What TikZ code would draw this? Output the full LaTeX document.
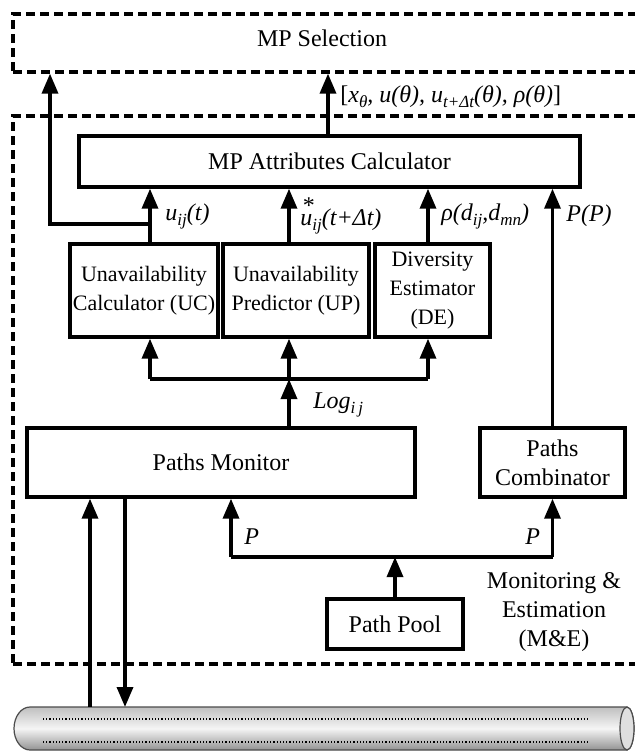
\documentclass[tikz,border=0pt]{standalone}
\usepackage{fontspec}
\setmainfont{Liberation Serif}
\usetikzlibrary{arrows.meta,calc}
% subscript in running italic labels
\newcommand{\sbs}[1]{\raisebox{-0.45ex}{\fontsize{8.5}{9}\selectfont\itshape #1}}
\begin{document}
\begin{tikzpicture}[x=0.5pt,y=-0.5pt,
  box/.style={draw, line width=1.7pt, inner sep=0pt, align=center,
    font=\fontsize{12}{14.5}\selectfont},
  smallbox/.style={box, font=\fontsize{11}{14.5}\selectfont},
  dashbox/.style={draw, line width=1.6pt, dash pattern=on 4.5pt off 2.5pt, inner sep=0pt},
  txt/.style={inner sep=0pt, align=center, font=\fontsize{12}{14.5}\selectfont},
  lbl/.style={inner sep=0pt, anchor=west, font=\fontsize{12}{14}\selectfont\itshape},
  wire/.style={line width=1.7pt},
  arr/.style={wire, -{Triangle[length=10pt,width=8pt]}}]
\useasboundingbox (0,0) rectangle (635,751);

% dashed frames
\node[dashbox, minimum width=323.5pt, minimum height=29pt] (sel) at (336.5,43) {};
\node[txt] (seltext) at (322,38) {MP Selection};
\node[dashbox, minimum width=323.5pt, minimum height=274pt] (me) at (336.5,390) {};
\node[txt] (metext) at (554,612) {Monitoring \&\\Estimation\\(M\&E)};

% blocks
\node[box, minimum width=250.5pt, minimum height=25.5pt] (attr) at (329.5,161.5) {MP Attributes Calculator};
\node[smallbox, minimum width=74pt, minimum height=46.5pt] (uc) at (144,290.5) {Unavailability\\Calculator (UC)};
\node[smallbox, minimum width=73pt, minimum height=46.5pt] (up) at (296,290.5) {Unavailability\\Predictor (UP)};
\node[smallbox, minimum width=57.5pt, minimum height=46.5pt] (de) at (432.5,290.5) {Diversity\\Estimator\\(DE)};
\node[box, minimum width=194pt, minimum height=34.5pt] (pm) at (221,462.5) {Paths Monitor};
\node[box, minimum width=72.5pt, minimum height=34.5pt] (pc) at (552.5,462.5) {Paths\\Combinator};
\node[box, minimum width=68pt, minimum height=25pt] (pool) at (395,624) {Path Pool};

% connector columns and bends
\coordinate (cUC) at (150,0);
\coordinate (cUP) at (289,0);
\coordinate (cDE) at (428,0);
\coordinate (cMid) at (328,0);
\coordinate (tapUC) at (150,224);
\coordinate (leftUp) at (50,224);
\coordinate (dL) at (150,379);
\coordinate (dR) at (428,379);
\coordinate (pL) at (231,557);
\coordinate (pR) at (552.5,557);
\coordinate (tapIn) at (90,707);
\coordinate (tapOut) at (125,707);

% upper flows
\draw[arr] (attr.north -| cMid) -- (sel.south -| cMid);
\draw[arr] (tapUC) -- (leftUp) -- (leftUp |- sel.south);
\draw[arr] (uc.north -| cUC) -- (attr.south -| cUC);
\draw[arr] (up.north -| cUP) -- (attr.south -| cUP);
\draw[arr] (de.north -| cDE) -- (attr.south -| cDE);
\draw[arr] (pc.north) -- (attr.south -| pc.north);

% log distribution
\draw[wire] (dL) -- (dR);
\draw[arr] (dL) -- (uc.south -| dL);
\draw[arr] (dL -| cUP) -- (up.south -| cUP);
\draw[arr] (dR) -- (de.south -| dR);
\draw[arr] (pm.north -| cUP) -- (dL -| cUP);

% path pool distribution
\draw[wire] (pL) -- (pR);
\draw[arr] (pL) -- (pm.south -| pL);
\draw[arr] (pR) -- (pc.south);
\draw[arr] (pool.north) -- (pool.north |- pL);

% pipe
\shade[top color=gray!50, bottom color=gray!85, middle color=white!92!gray, draw=gray!60!black, line width=0.6pt]
  (627,707) -- (30,707) arc[start angle=90, end angle=270, x radius=8pt, y radius=10.75pt]
  -- (627,750) arc[start angle=-90, end angle=90, x radius=3.5pt, y radius=10.75pt] -- cycle;
\draw[fill=gray!25, draw=gray!60!black, line width=0.6pt] (627,728.5) ellipse[x radius=3.5pt, y radius=10.75pt];
\draw[densely dotted, line width=0.6pt] (43,719) -- (588,719);
\draw[densely dotted, line width=0.6pt] (43,742) -- (588,742);

% network taps
\draw[arr] (tapIn) -- (pm.south -| tapIn);
\draw[arr] (pm.south -| tapOut) -- (tapOut);

% labels
\node[lbl] (lsel) at (340,97) {{\upshape[}x\sbs{θ}, u(θ), u\sbs{t+Δt}(θ), ρ(θ){\upshape]}};
\node[lbl] (luc) at (165,216) {u\sbs{ij}(t)};
\node[lbl] (lup) at (300,216) {\rlap{\raisebox{1.05ex}{\hspace{0.1em}\upshape *}}u\sbs{ij}(t+Δt)};
\node[lbl] (lde) at (441,216) {ρ(d\sbs{ij},d\sbs{mn})};
\node[lbl] (lpc) at (566,216) {P(P)};
\node[lbl] (llog) at (313,405) {Log\sbs{i\,j}};
\node[lbl] (lpl) at (244,537) {P};
\node[lbl] (lpr) at (525,537) {P};
\end{tikzpicture}
\end{document}
